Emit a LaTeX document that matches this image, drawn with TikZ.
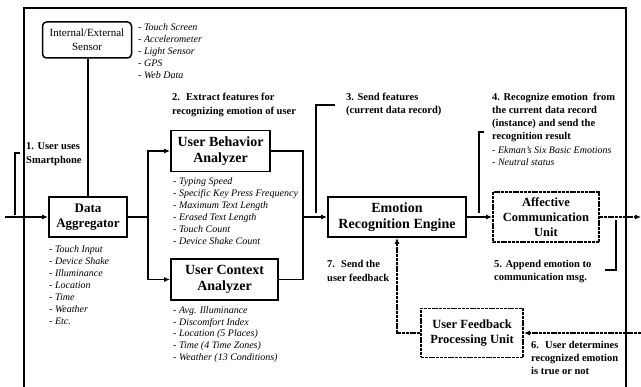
\documentclass[tikz,border=0pt]{standalone}
\usepackage{fontspec}
\setmainfont{Liberation Serif}
\usetikzlibrary{arrows.meta}
\begin{document}
\begin{tikzpicture}[x=1pt,y=-1pt,
 box/.style={draw,line width=1.8pt,align=center,inner sep=1pt},
 dbox/.style={box,dash pattern=on 3pt off 0.8pt},
 conn/.style={line width=1.8pt},
 dconn/.style={conn,dash pattern=on 3pt off 0.8pt},
 arr/.style={-{Latex[length=6pt,width=5pt]}},
 brk/.style={line width=1.1pt},
 lst/.style={anchor=west,align=left,inner sep=0pt,font=\fontsize{10}{12}\selectfont\itshape},
 lab/.style={anchor=west,align=left,inner sep=0pt,font=\fontsize{10.5}{13.3}\selectfont\bfseries},
 bigf/.style={font=\fontsize{14}{16.5}\selectfont\bfseries},
 midf/.style={font=\fontsize{12.5}{15}\selectfont\bfseries},
]
\useasboundingbox (0,0) rectangle (641,387);
\fill[white] (0,0) rectangle (641,387);

% outer frame
\draw[line width=1.5pt] (24,387) -- (24,8) -- (626,8) -- (626,387);

% boxes
\node[box,rounded corners=4pt,line width=1.5pt,minimum width=89pt,minimum height=36pt,
      font=\fontsize{11}{14}\selectfont] (sensor) at (87,40) {Internal/External\\Sensor};
\node[box,minimum width=78pt,minimum height=40pt,font=\fontsize{13}{15.5}\selectfont\bfseries] (da) at (88,217) {Data\\Aggregator};
\node[box,bigf,minimum width=99pt,minimum height=41pt] (uba) at (220.5,151) {User Behavior\\Analyzer};
\node[box,bigf,minimum width=107pt,minimum height=41pt] (uca) at (224.5,279.5) {User Context\\Analyzer};
\node[box,bigf,minimum width=138pt,minimum height=40pt] (ere) at (397,217) {Emotion\\Recognition Engine};
\node[dbox,midf,minimum width=106pt,minimum height=50pt] (acu) at (546,217) {Affective\\Communication\\Unit};
\node[dbox,midf,minimum width=102pt,minimum height=49pt] (ufpu) at (472,333) {User Feedback\\Processing Unit};

% lists
\node[lst] (sl) at (138,51) {- Touch Screen\\- Accelerometer\\- Light Sensor\\- GPS\\- Web Data};
\node[lst] (dal) at (49,285) {- Touch Input\\- Device Shake\\- Illuminance\\- Location\\- Time\\- Weather\\- Etc.};
\node[lst] (ubal) at (173,211) {- Typing Speed\\- Specific Key Press Frequency\\- Maximum Text Length\\- Erased Text Length\\- Touch Count\\- Device Shake Count};
\node[lst,font=\fontsize{10}{11.8}\selectfont\itshape] (ucal) at (173,334.5) {- Avg. Illuminance\\- Discomfort Index\\- Location (5 Places)\\- Time (4 Time Zones)\\- Weather (13 Conditions)};

% labels
\node[lab,font=\fontsize{10.5}{14}\selectfont\bfseries] (l1) at (26,154) {1. User uses\\Smartphone};
\node[lab,font=\fontsize{10.5}{14}\selectfont\bfseries] (l2) at (172,105) {2.~ Extract features for\\recognizing emotion of user};
\node[lab] (l3) at (346,104.5) {3. Send features\\(current data record)};
\node[lab] (l4) at (492,117.5) {4. Recognize emotion~ from\\the current data record\\(instance) and send the\\recognition result};
\node[lst] (l4l) at (492,156.5) {- Ekman's Six Basic Emotions\\- Neutral status};
\node[lab] (l5) at (494,271.5) {5. Append emotion to\\communication msg.};
\node[lab] (l6) at (531,358) {6.~ User determines\\recognized emotion\\is true or not};
\node[lab] (l7) at (327,271) {7.~ Send the\\user feedback};

% coordinates
\coordinate (in) at (5,217);
\coordinate (sp) at (148,217);
\coordinate (mg) at (303,217);
\coordinate (out) at (641,217);
\coordinate (fb) at (641,333);

% connectors
\draw[conn] (da.north) -- (da.north |- sensor.south);
\draw[conn,arr] (in) -- (da.west);
\draw[conn] (da.east) -- (sp);
\draw[conn,arr] (sp) |- (uba.west);
\draw[conn,arr] (sp) |- (uca.west);
\draw[conn] (uba.east) -| (mg);
\draw[conn] (uca.east) -| (mg);
\draw[conn,arr] (mg) -- (ere.west);
\draw[conn,arr] (ere.east) -- (acu.west);
\draw[dconn,arr] (acu.east) -- (out);
\draw[dconn,arr] (fb) -- (ufpu.east);
\draw[dconn,arr] (ufpu.west) -| (ere.south);

% brackets
\draw[brk] (20,153) -- (15,153) -- (15,215);
\draw[brk] (335,105) -- (316,105) -- (316,213);
\draw[brk] (484,132) -- (479,132) -- (479,213);
\draw[brk] (616,220) -- (616,270) -- (605,270);
\end{tikzpicture}
\end{document}
